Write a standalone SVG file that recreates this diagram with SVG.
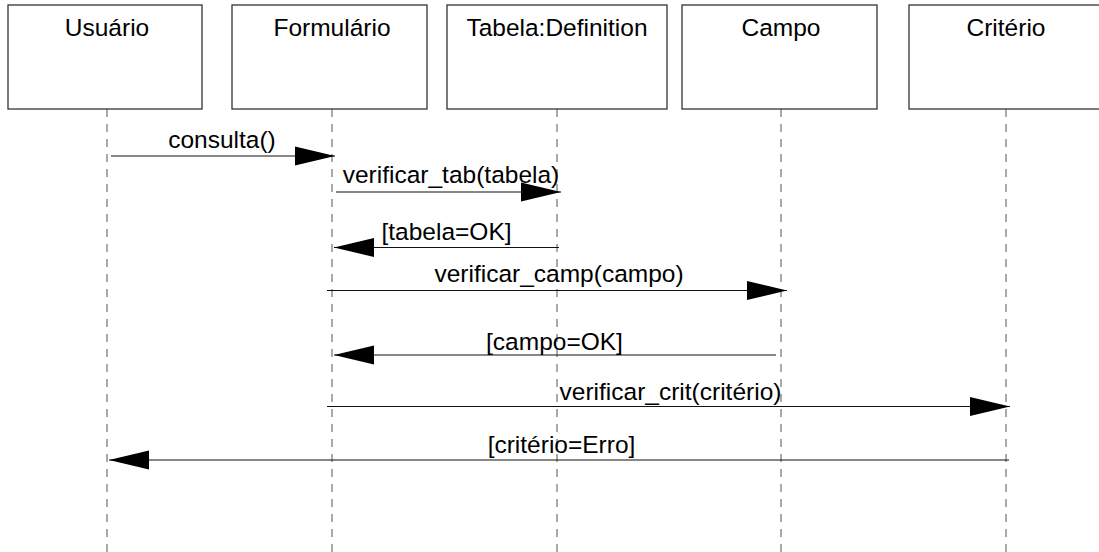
<svg xmlns="http://www.w3.org/2000/svg" width="1099" height="552" viewBox="0 0 1099 552">
  <style>
    .box { fill: #ffffff; stroke: #333333; stroke-width: 1.3; }
    .life { stroke: #555555; stroke-width: 1; stroke-dasharray: 8 7; fill: none; }
    .msg { stroke: #111111; stroke-width: 1.2; fill: none; marker-end: url(#arrow); }
    text { font-family: "Liberation Sans", Arial, sans-serif; font-size: 24.5px; fill: #000000; text-anchor: middle; }
  </style>
  <defs>
    <marker id="arrow" markerUnits="userSpaceOnUse" markerWidth="40" markerHeight="20" viewBox="0 0 40 20" refX="40" refY="10" orient="auto">
      <path d="M0,0.5 L40,10 L0,19.5 z" fill="#000000"/>
    </marker>
  </defs>

  <!-- lifelines -->
  <g id="lifelines">
    <line class="life" x1="107" y1="109" x2="107" y2="552"/>
    <line class="life" x1="332" y1="109" x2="332" y2="552"/>
    <line class="life" x1="557" y1="109" x2="557" y2="552"/>
    <line class="life" x1="781" y1="109" x2="781" y2="552"/>
    <line class="life" x1="1006" y1="109" x2="1006" y2="552"/>
  </g>

  <!-- participants -->
  <g id="usuario">
    <rect class="box" x="8" y="5" width="194" height="104"/>
    <text x="107" y="36">Usuário</text>
  </g>
  <g id="formulario">
    <rect class="box" x="232" y="5" width="195" height="104"/>
    <text x="332" y="36">Formulário</text>
  </g>
  <g id="tabela">
    <rect class="box" x="447" y="5" width="220" height="104"/>
    <text x="557" y="36">Tabela:Definition</text>
  </g>
  <g id="campo">
    <rect class="box" x="682" y="5" width="195" height="104"/>
    <text x="781" y="36">Campo</text>
  </g>
  <g id="criterio">
    <rect class="box" x="909" y="5" width="196" height="104"/>
    <text x="1006" y="36">Critério</text>
  </g>

  <!-- messages -->
  <g id="connectors">
    <line class="msg" x1="111" y1="156" x2="335" y2="156"/>
    <text x="222" y="148">consulta()</text>

    <line class="msg" x1="336" y1="192" x2="561" y2="192"/>
    <text x="451" y="183">verificar_tab(tabela)</text>

    <line class="msg" x1="559" y1="247.5" x2="334" y2="247.5"/>
    <text x="446.5" y="240">[tabela=OK]</text>

    <line class="msg" x1="327" y1="290.5" x2="787" y2="290.5"/>
    <text x="559" y="282">verificar_camp(campo)</text>

    <line class="msg" x1="776" y1="355" x2="334" y2="355"/>
    <text x="554.5" y="350">[campo=OK]</text>

    <line class="msg" x1="327" y1="406.5" x2="1010" y2="406.5"/>
    <text x="670.5" y="400">verificar_crit(critério)</text>

    <line class="msg" x1="1009" y1="460" x2="109" y2="460"/>
    <text x="561.5" y="453">[critério=Erro]</text>
  </g>
</svg>
